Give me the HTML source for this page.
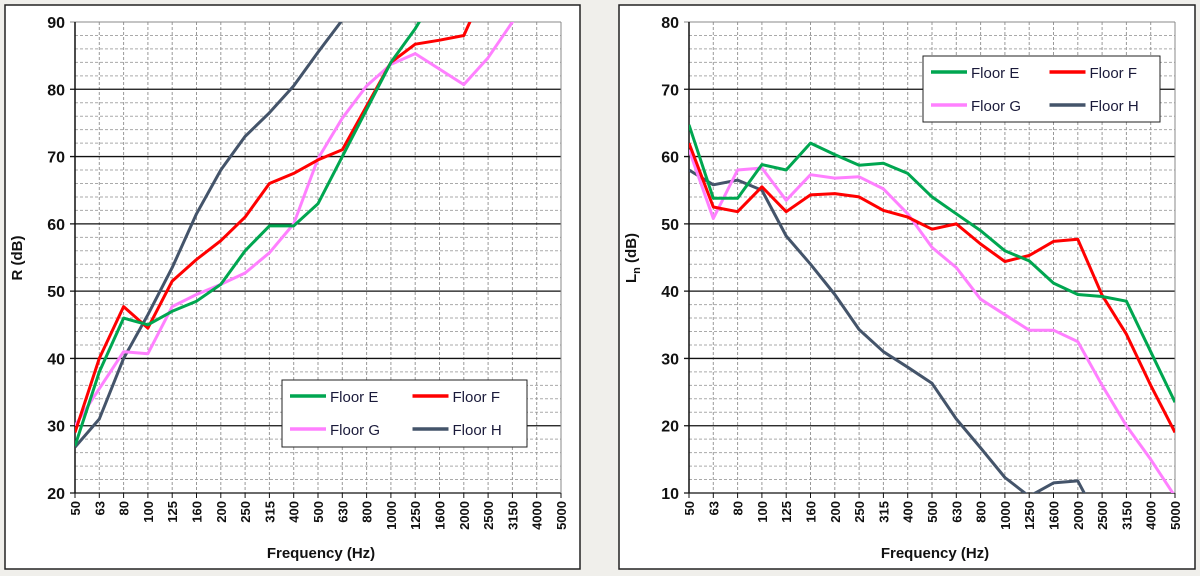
<!DOCTYPE html>
<html><head><meta charset="utf-8"><style>
html,body{margin:0;padding:0;background:#f0efeb;}
svg{display:block;font-family:"Liberation Sans",Arial,sans-serif;}
</style></head><body>
<svg id="s" width="1200" height="576" xmlns="http://www.w3.org/2000/svg">
<rect x="0" y="0" width="1200" height="576" fill="#f0efeb"/>
<rect x="5" y="5" width="575" height="564" fill="#fff" stroke="#222" stroke-width="1.5"/>
<rect x="619" y="5" width="576" height="564" fill="#fff" stroke="#222" stroke-width="1.5"/>
</svg>
<script>
const NS="http://www.w3.org/2000/svg",S=document.getElementById('s');
function el(t,a,txt){const e=document.createElementNS(NS,t);for(const k in a)e.setAttribute(k,a[k]);if(txt!==undefined)e.textContent=txt;S.appendChild(e);return e;}
const F=["50","63","80","100","125","160","200","250","315","400","500","630","800","1000","1250","1600","2000","2500","3150","4000","5000"];
const C={E:"#00a650",F:"#ff0000",G:"#ff80ff",H:"#44546a"};
function chart(x0,x1,y0,y1,vmax,vmin,series,ytitle,leg,clipId){
 const dx=(x1-x0)/20,py=v=>y0+(vmax-v)*(y1-y0)/(vmax-vmin);
 for(let v=vmin+2;v<vmax;v+=2){if((v-vmin)%10)el('line',{x1:x0,x2:x1,y1:py(v),y2:py(v),stroke:'#aaa','stroke-dasharray':'3,2','stroke-width':1});}
 for(let i=1;i<=20;i++)el('line',{x1:x0+i*dx,x2:x0+i*dx,y1:y0,y2:y1,stroke:'#999','stroke-dasharray':'3,2','stroke-width':1});
 for(let v=vmin;v<=vmax;v+=10){el('line',{x1:x0-5,x2:x1,y1:py(v),y2:py(v),stroke:v==vmax?'#888':'#111','stroke-width':v==vmax?1:1.3});
  el('text',{x:x0-10,y:py(v)+6,'text-anchor':'end','font-size':16,'font-weight':'bold',fill:'#111'},v);}
 el('line',{x1:x1,x2:x1,y1:y0,y2:y1,stroke:'#888'});
 el('line',{x1:x0,x2:x0,y1:y0,y2:y1,stroke:'#111','stroke-width':1.5});
 for(let i=0;i<=20;i++){const x=x0+i*dx;el('line',{x1:x,x2:x,y1:y1,y2:y1+5,stroke:'#111'});
  el('text',{transform:`translate(${x+5},${y1+8}) rotate(-90)`,'text-anchor':'end','font-size':13,'font-weight':'bold',fill:'#111'},F[i]);}
 el('text',{x:(x0+x1)/2+3,y:558,'text-anchor':'middle','font-size':15,'font-weight':'bold',fill:'#111'},'Frequency  (Hz)');
 const cp=el('clipPath',{id:clipId});const r=document.createElementNS(NS,'rect');r.setAttribute('x',x0);r.setAttribute('y',y0);r.setAttribute('width',x1-x0);r.setAttribute('height',y1-y0);cp.appendChild(r);
 for(const k of ['H','G','F','E']){const d=series[k];if(!d)continue;
  el('polyline',{points:d.map((v,i)=>(x0+i*dx).toFixed(1)+','+py(v).toFixed(1)).join(' '),fill:'none',stroke:C[k],'stroke-width':3,'stroke-linejoin':'round','clip-path':`url(#${clipId})`});}
 const [lx,ly,lw,lh]=leg;el('rect',{x:lx,y:ly,width:lw,height:lh,fill:'#fff',stroke:'#222','stroke-width':1});
 const items=[['E',0,0],['F',1,0],['G',0,1],['H',1,1]];
 for(const [k,c,r2] of items){const bx=lx+12+c*(lw/2)-4,by=ly+16+r2*33;
  el('line',{x1:bx,x2:bx+36,y1:by,y2:by,stroke:C[k],'stroke-width':3.5});
  el('text',{x:bx+40,y:by+6,'font-size':15,fill:'#1a1a3a'},'Floor '+k);}
}
chart(75,561,22,493,90,20,{
 E:[27,38,46,45,47,48.5,51,56,59.7,59.7,63,70,77,84,89,95,99,100,100,100,100],
 F:[29,40,47.7,44.5,51.5,54.7,57.5,61,66,67.5,69.5,71,77.5,84,86.7,87.3,88,96,100,100,100],
 G:[30,35.5,41,40.7,47.7,49.5,51,52.7,55.7,60,69.7,75.7,80.5,83.7,85.3,83,80.7,84.7,90,95,100],
 H:[26.8,31,40,46.5,53.5,61.5,68,73,76.5,80.5,85.5,90.3,96,100,100,100,100,100,100,100,100]
},'R (dB)',[282,380,245,67],'c1');
chart(689,1175,22,493,80,10,{
 E:[64.7,53.8,53.8,58.8,58,62,60.3,58.7,59,57.5,54,51.5,49,46,44.5,41.2,39.5,39.2,38.5,31,23.5],
 F:[62,52.5,51.8,55.5,51.8,54.3,54.5,54,52,51,49.2,50,47,44.4,45.3,47.4,47.7,39.4,33.6,26,19],
 G:[61,50.8,58,58.3,53.5,57.3,56.8,57,55.2,51.5,46.5,43.5,38.8,36.5,34.2,34.2,32.5,26,20,15,9.5],
 H:[58,55.8,56.5,55,48.2,44,39.5,34.3,31,28.7,26.3,21,16.7,12.3,9.5,11.5,11.8,5]
},'Ln',[923,56,237,66],'c2');
el('text',{transform:'translate(22,258) rotate(-90)','text-anchor':'middle','font-size':15,'font-weight':'bold',fill:'#111'},'R (dB)');
const t=el('text',{transform:'translate(636,258) rotate(-90)','text-anchor':'middle','font-size':15,'font-weight':'bold',fill:'#111'});
t.innerHTML='L<tspan font-size="11" dy="4">n</tspan><tspan dy="-4"> (dB)</tspan>';
</script>
</body></html>
